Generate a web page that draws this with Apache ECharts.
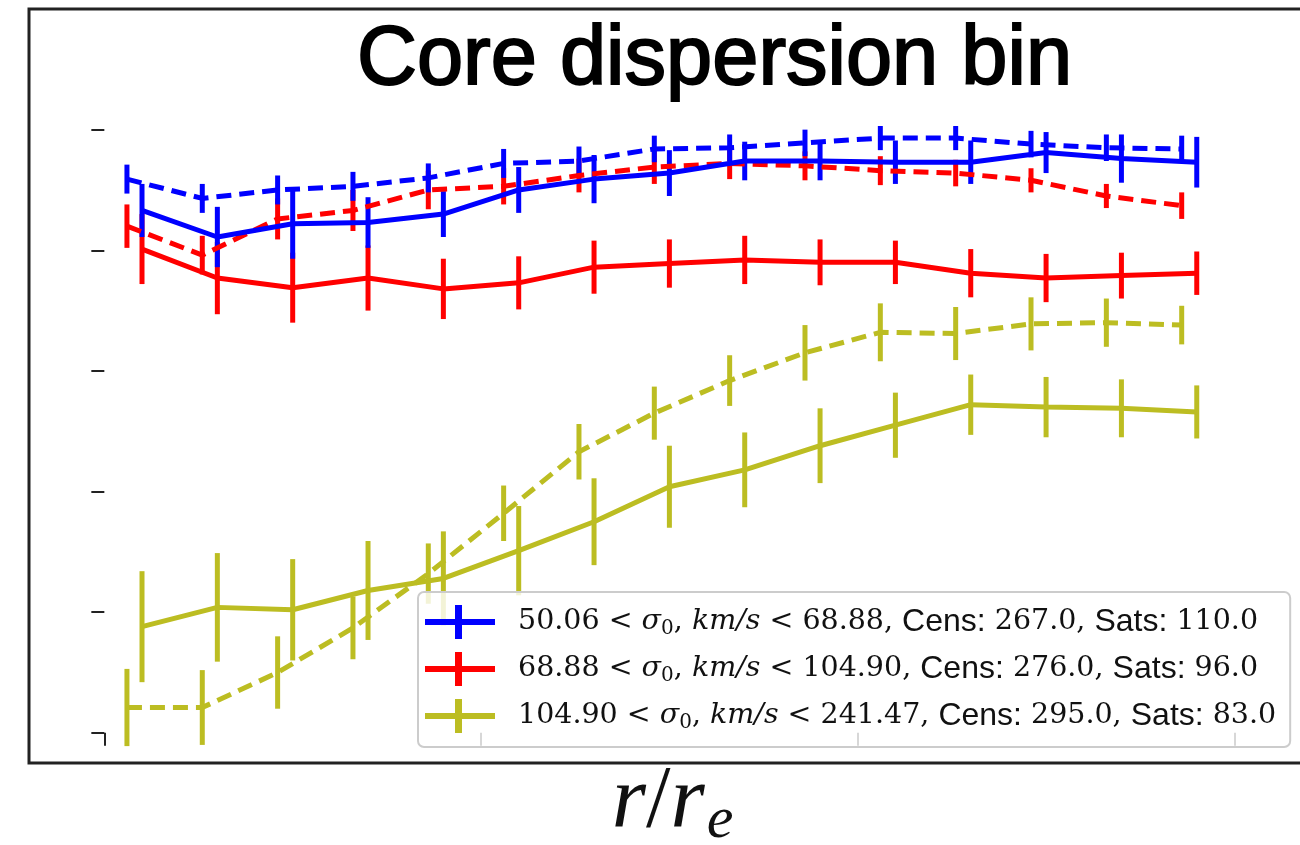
<!DOCTYPE html>
<html>
<head>
<meta charset="UTF-8" />
<title>Core dispersion bin</title>
<script src="https://cdn.jsdelivr.net/npm/echarts@6/dist/echarts.min.js"></script>
<style>
  html, body { margin: 0; padding: 0; background: #fff; overflow: hidden; }
  #chart { width: 1300px; height: 845px; }
</style>
</head>
<body>
<div id="chart"></div>
<script>
  // radial bins (solid = centrals, dashed = offset copy)
  const xSolid  = [0.05, 0.15, 0.25, 0.35, 0.45, 0.55, 0.65, 0.75, 0.85, 0.95, 1.05, 1.15, 1.25, 1.35, 1.45];
  const xDashed = [0.03, 0.13, 0.23, 0.33, 0.43, 0.53, 0.63, 0.73, 0.83, 0.93, 1.03, 1.13, 1.23, 1.33, 1.43];

  const blueSolid     = [4.33, 4.11, 4.22, 4.23, 4.30, 4.50, 4.59, 4.64, 4.74, 4.74, 4.73, 4.73, 4.81, 4.76, 4.73];
  const blueSolidErr  = [0.22, 0.25, 0.29, 0.21, 0.19, 0.19, 0.20, 0.19, 0.16, 0.16, 0.18, 0.18, 0.17, 0.20, 0.21];
  const blueDashed    = [4.59, 4.43, 4.50, 4.53, 4.60, 4.72, 4.74, 4.84, 4.85, 4.89, 4.93, 4.93, 4.88, 4.85, 4.84];
  const blueDashedErr = [0.12, 0.12, 0.12, 0.12, 0.12, 0.12, 0.12, 0.11, 0.11, 0.11, 0.10, 0.10, 0.11, 0.11, 0.11];

  const redSolid     = [4.01, 3.77, 3.69, 3.77, 3.68, 3.73, 3.86, 3.89, 3.92, 3.90, 3.90, 3.81, 3.77, 3.79, 3.81];
  const redSolidErr  = [0.29, 0.30, 0.29, 0.27, 0.25, 0.22, 0.22, 0.20, 0.20, 0.19, 0.18, 0.20, 0.20, 0.19, 0.18];
  const redDashed    = [4.20, 3.96, 4.26, 4.33, 4.50, 4.53, 4.62, 4.69, 4.72, 4.70, 4.66, 4.64, 4.58, 4.45, 4.37];
  const redDashedErr = [0.18, 0.16, 0.17, 0.17, 0.16, 0.15, 0.14, 0.14, 0.13, 0.12, 0.12, 0.11, 0.10, 0.10, 0.11];

  const yellowSolid     = [0.88, 1.04, 1.02, 1.18, 1.28, 1.51, 1.75, 2.04, 2.18, 2.38, 2.55, 2.72, 2.70, 2.69, 2.66];
  const yellowSolidErr  = [0.46, 0.45, 0.42, 0.41, 0.39, 0.37, 0.36, 0.34, 0.31, 0.31, 0.27, 0.25, 0.25, 0.24, 0.22];
  const yellowDashed    = [0.21, 0.21, 0.50, 0.87, 1.32, 1.82, 2.33, 2.65, 2.92, 3.15, 3.32, 3.31, 3.39, 3.40, 3.38];
  const yellowDashedErr = [0.32, 0.31, 0.30, 0.26, 0.25, 0.23, 0.23, 0.22, 0.21, 0.23, 0.24, 0.22, 0.22, 0.20, 0.16];

  // legend text pieces
  const binLow  = ['50.06', '68.88', '104.90'];
  const binHigh = ['68.88', '104.90', '241.47'];
  const cens    = ['267.0', '276.0', '295.0'];
  const sats    = ['110.0', '96.0', '83.0'];

  const xTicks = [0, 0.5, 1, 1.5];
  const yTicks = [0, 1, 2, 3, 4, 5];

  const BLUE = '#0000ff', RED = '#ff0000', YELLOW = '#bcbd22';

  const legendNames = binLow.map((lo, i) =>
    `${lo} < σ0, km/s < ${binHigh[i]}, Cens: ${cens[i]}, Sats: ${sats[i]}`);

  const chart = echarts.init(document.getElementById('chart'));

  function pairs(xs, ys) { return xs.map((x, i) => [x, ys[i]]); }
  function triples(xs, ys, es) { return xs.map((x, i) => [x, ys[i], es[i]]); }

  function errorBar(color) {
    return function (params, api) {
      const x = api.value(0), y = api.value(1), e = api.value(2);
      const lo = api.coord([x, y - e]);
      const hi = api.coord([x, y + e]);
      return {
        type: 'line',
        shape: { x1: lo[0], y1: lo[1], x2: hi[0], y2: hi[1] },
        style: { stroke: color, lineWidth: 5 }
      };
    };
  }

  function lineSeries(name, xs, ys, color, dashed) {
    return {
      name: name,
      type: 'line',
      data: pairs(xs, ys),
      showSymbol: false,
      silent: true,
      itemStyle: { color: color },
      lineStyle: { color: color, width: 5, type: dashed ? [15, 8] : 'solid' }
    };
  }

  function barSeries(name, xs, ys, es, color) {
    return {
      name: name,
      type: 'custom',
      data: triples(xs, ys, es),
      encode: { x: 0, y: 1 },
      silent: true,
      itemStyle: { color: color },
      renderItem: errorBar(color)
    };
  }

  const series = [
    lineSeries(legendNames[1], xSolid, redSolid, RED, false),
    barSeries('red-err', xSolid, redSolid, redSolidErr, RED),
    lineSeries('red-dashed', xDashed, redDashed, RED, true),
    barSeries('red-dashed-err', xDashed, redDashed, redDashedErr, RED),
    lineSeries(legendNames[2], xSolid, yellowSolid, YELLOW, false),
    barSeries('yellow-err', xSolid, yellowSolid, yellowSolidErr, YELLOW),
    lineSeries('yellow-dashed', xDashed, yellowDashed, YELLOW, true),
    barSeries('yellow-dashed-err', xDashed, yellowDashed, yellowDashedErr, YELLOW),
    lineSeries(legendNames[0], xSolid, blueSolid, BLUE, false),
    barSeries('blue-err', xSolid, blueSolid, blueSolidErr, BLUE),
    lineSeries('blue-dashed', xDashed, blueDashed, BLUE, true),
    barSeries('blue-dashed-err', xDashed, blueDashed, blueDashedErr, BLUE)
  ];

  const axisColor = '#222';
  const legendIcon = 'path://M0,14h70v6h-70z M30,0h7v34h-7z';
  const legendColors = [BLUE, RED, YELLOW];
  const serif = 'DejaVu Serif, serif';

  const option = {
    animation: false,
    backgroundColor: '#fff',
    title: {
      text: 'Core dispersion bin',
      left: 357,
      top: 20,
      padding: 0,
      textStyle: {
        fontSize: 83, fontFamily: 'Liberation Sans, Arial, sans-serif', fontWeight: 'normal', color: '#000',
        textBorderColor: '#000', textBorderWidth: 2
      }
    },
    // the figure is cropped on the right, so the frame runs past the canvas edge
    grid: {
      left: 29, right: -6, top: 9, bottom: 82, containLabel: false, outerBoundsMode: 'none',
      show: true, borderColor: axisColor, borderWidth: 3, backgroundColor: 'transparent'
    },
    xAxis: {
      type: 'value',
      min: -0.1,
      max: 1.595,
      name: '{i|r}{n|/}{i|r}{s|e}',
      nameLocation: 'middle',
      nameGap: -8,
      nameTextStyle: {
        padding: [0, 0, 0, 10],
        rich: {
          i: { fontFamily: 'Liberation Serif, serif', fontStyle: 'italic', fontSize: 88, color: '#111' },
          n: { fontFamily: 'Liberation Serif, serif', fontSize: 88, color: '#111' },
          s: { fontFamily: 'Liberation Serif, serif', fontStyle: 'italic', fontSize: 60, color: '#111', padding: [36, 0, 0, 2] }
        }
      },
      axisLine: { show: false },
      axisTick: { show: true, customValues: xTicks, length: 13, lineStyle: { color: axisColor, width: 2 } },
      axisLabel: { show: false },
      splitLine: { show: false }
    },
    yAxis: {
      type: 'value',
      position: 'left',
      min: -0.25,
      max: 6,
      axisLine: { show: false },
      axisTick: { show: true, customValues: yTicks, length: 13, lineStyle: { color: axisColor, width: 2 } },
      axisLabel: { show: false },
      splitLine: { show: false }
    },
    legend: {
      orient: 'vertical',
      left: 418,
      top: 592,
      z: 10,
      padding: [13, 14, 14, 7],
      itemGap: 13,
      itemWidth: 70,
      itemHeight: 34,
      selectedMode: false,
      backgroundColor: 'rgba(255,255,255,0.82)',
      borderColor: '#cccccc',
      borderWidth: 2,
      borderRadius: 6,
      data: legendNames.map((n, i) => ({ name: n, icon: legendIcon, itemStyle: { color: legendColors[i] } })),
      formatter: function (name) {
        const i = legendNames.indexOf(name);
        return '{g| }{n|' + binLow[i] + ' < }{i|σ}{sub|0}{n|, }{i|km/s}{n| < ' + binHigh[i] +
          ', }{ss|Cens:}{n| ' + cens[i] + ', }{ss|Sats:}{n| ' + sats[i] + '}';
      },
      textStyle: {
        color: '#111',
        fontSize: 28,
        rich: {
          g: { width: 18 },
          n: { fontFamily: serif, fontSize: 28.5, color: '#111' },
          i: { fontFamily: serif, fontStyle: 'italic', fontSize: 28.5, color: '#111' },
          sub: { fontFamily: serif, fontSize: 20, color: '#111', padding: [14, 0, 0, 0] },
          ss: { fontFamily: 'Liberation Sans, sans-serif', fontSize: 32, color: '#111' }
        }
      }
    },
    series: series
  };

  chart.setOption(option);
</script>
</body>
</html>
